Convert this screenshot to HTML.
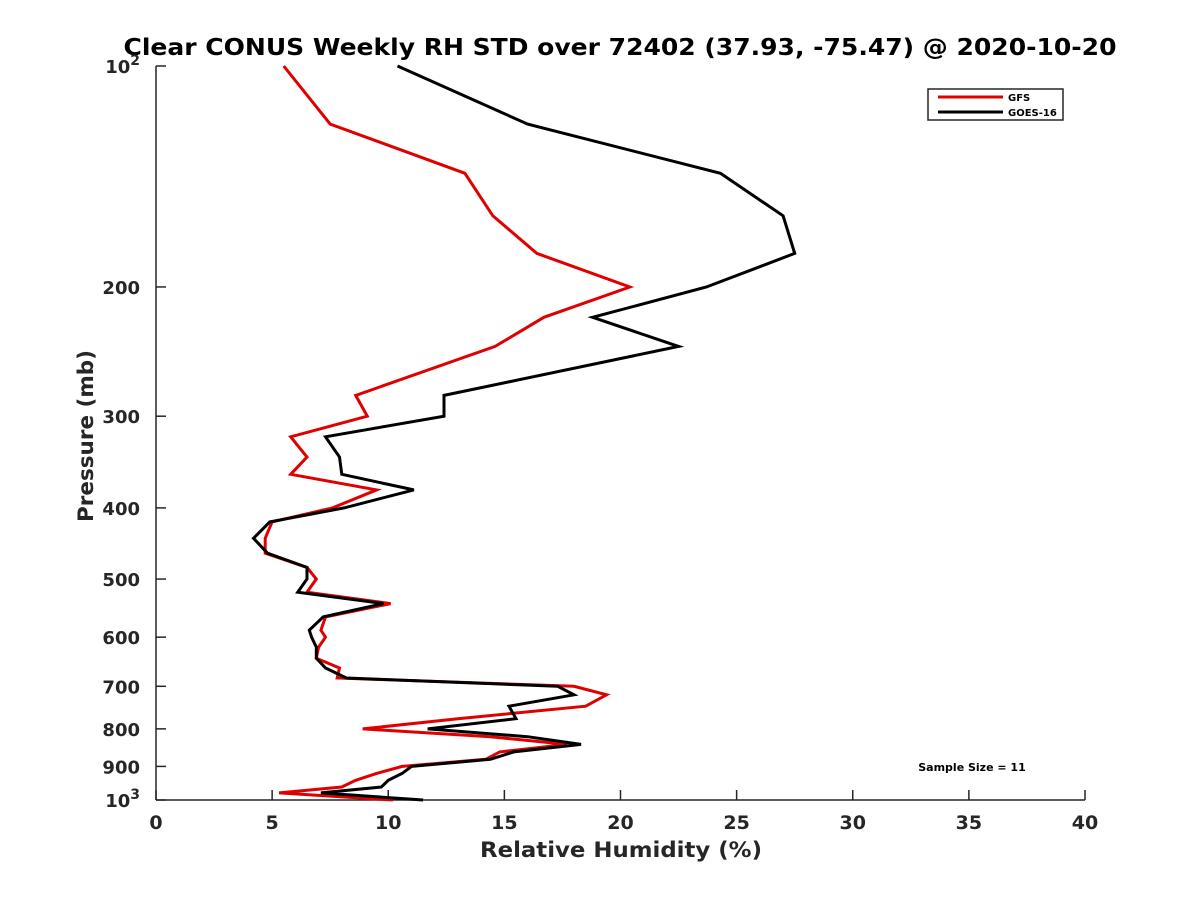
<!DOCTYPE html>
<html><head><meta charset="utf-8"><style>
body{margin:0;background:#fff;}
svg text{font-family:"DejaVu Sans","Liberation Sans",sans-serif;font-weight:bold;fill:#262626;}
</style></head><body>
<svg id="chart" width="1200" height="900" viewBox="0 0 1200 900" xmlns="http://www.w3.org/2000/svg">
<rect width="1200" height="900" fill="#fff"/>
<text x="620" y="55" text-anchor="middle" font-size="23" textLength="993" lengthAdjust="spacingAndGlyphs" style="fill:#000">Clear CONUS Weekly RH STD over 72402 (37.93, -75.47) @ 2020-10-20</text>
<g id="axes"></g>
<g id="series"></g>
<text x="621" y="857" text-anchor="middle" font-size="21" textLength="282" lengthAdjust="spacingAndGlyphs">Relative Humidity (%)</text>
<text transform="translate(93,436) rotate(-90)" text-anchor="middle" font-size="21" textLength="172" lengthAdjust="spacingAndGlyphs">Pressure (mb)</text>
<text x="972" y="771" text-anchor="middle" font-size="11" style="fill:#000">Sample Size = 11</text>
<g>
<rect x="928" y="89" width="135" height="31" fill="#fff" stroke="#262626" stroke-width="1.5"/>
<line x1="938" y1="97" x2="1003" y2="97" stroke="#e00000" stroke-width="3"/>
<text x="1008" y="101" font-size="10" style="fill:#000">GFS</text>
<line x1="938" y1="112" x2="1003" y2="112" stroke="#000" stroke-width="3"/>
<text x="1008" y="116" font-size="10" style="fill:#000">GOES-16</text>
</g>
</svg>
<script>
const pressures=[100,120,140,160,180,200,220,241,281,300,320,341,360,378,400,418,440,461,482,500,521,540,563,587,600,619,641,661,682,700,719,745,775,800,820,840,860,880,900,920,940,960,978,1000];
const goesRH=[10.4,16.0,24.3,27.0,27.5,23.7,18.8,22.5,12.4,12.4,7.3,7.9,8.0,11.1,8.1,4.9,4.2,4.8,6.5,6.5,6.1,9.8,7.2,6.6,6.7,6.9,6.9,7.3,8.2,17.3,18.0,15.2,15.5,11.7,16.0,18.3,15.4,14.4,11.0,10.6,10.0,9.7,7.1,11.5];
const gfsRH=[5.5,7.5,13.3,14.5,16.4,20.4,16.7,14.6,8.6,9.1,5.8,6.5,5.8,9.5,7.6,5.0,4.7,4.7,6.5,6.9,6.5,10.1,7.3,7.1,7.3,7.0,6.9,7.9,7.8,18.0,19.4,18.5,13.0,8.9,14.4,17.7,14.8,14.2,10.6,9.5,8.6,8.0,5.3,10.2];
const xTicks=[0,5,10,15,20,25,30,35,40];
const yTicks=[200,300,400,500,600,700,800,900];
const NS="http://www.w3.org/2000/svg";
const X0=156,X1=1085,Y0=66,Y1=800;
function xs(v){return X0+(v-0)/(40-0)*(X1-X0);}
function ys(p){return Y0+(Math.log10(p)-2)*(Y1-Y0);}
function mk(t,a,parent){const e=document.createElementNS(NS,t);for(const k in a)e.setAttribute(k,a[k]);parent.appendChild(e);return e;}
const ax=document.getElementById('axes');
let l=mk('line',{x1:X0,y1:Y0,x2:X0,y2:Y1,stroke:'#262626','stroke-width':1.5},ax);


l=mk('line',{x1:X0,y1:Y1,x2:X1,y2:Y1,stroke:'#262626','stroke-width':1.5},ax);


xTicks.forEach(v=>{
 const x=xs(v);
 const t=mk('line',{x1:x,y1:Y1,x2:x,y2:Y1-10,stroke:'#262626','stroke-width':1.5},ax);
 
 
 const tx=mk('text',{x:x,y:Y1+29,'text-anchor':'middle','font-size':19},ax);
 tx.textContent=v;
 
 
});
[100,1000].concat(yTicks).forEach(p=>{
 const y=ys(p);
 const t=mk('line',{x1:X0,y1:y,x2:X0+10,y2:y,stroke:'#262626','stroke-width':1.5},ax);
 
 
});
yTicks.forEach(p=>{
 const tx=mk('text',{x:X0-16,y:ys(p)+7,'text-anchor':'end','font-size':18},ax);
 tx.textContent=p;
 
 
});
[[100,'2'],[1000,'3']].forEach(([p,e])=>{
 const tx=mk('text',{x:X0-16,y:ys(p)+7,'text-anchor':'end','font-size':18},ax);
 tx.innerHTML='10<tspan dy="-8" font-size="14">'+e+'</tspan>';
 
 
});
const sg=document.getElementById('series');
function line(vals,color,name){
 const pts=vals.map((v,i)=>xs(v).toFixed(1)+','+ys(pressures[i]).toFixed(1)).join(' ');
 const pl=mk('polyline',{points:pts,fill:'none',stroke:color,'stroke-width':3,'stroke-linejoin':'miter'},sg);
 
 
}
line(gfsRH,'#e00000','gfs-line');
line(goesRH,'#000000','goes16-line');
</script>
</body></html>
